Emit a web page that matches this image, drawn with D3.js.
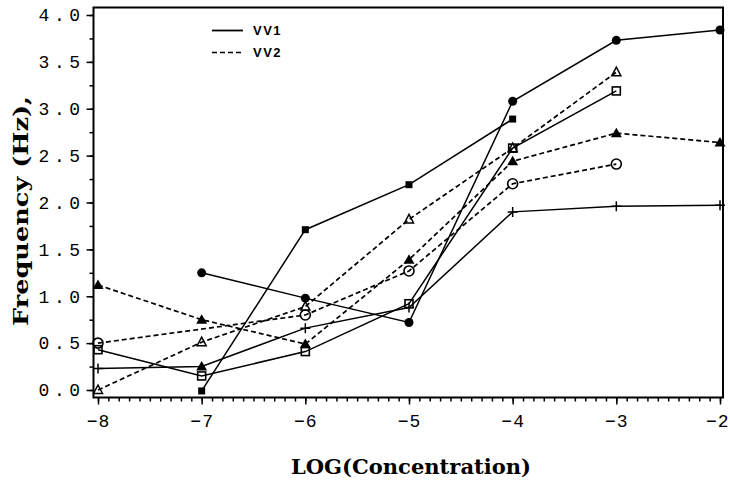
<!DOCTYPE html>
<html>
<head>
<meta charset="utf-8">
<script src="https://d3js.org/d3.v7.min.js"></script>
<style>
  body { margin: 0; background: #fff; }
  .tick text { font-family: "Liberation Mono", "DejaVu Sans Mono", monospace; font-size: 18px; letter-spacing: 4.5px; fill: #000; }
  .xlab .tick text { letter-spacing: 1px; }
  .tick line { stroke: #000; stroke-width: 1.5; }
</style>
</head>
<body>
<script>

// x values (log concentration) and tick labels
var xTicks = [-8, -7, -6, -5, -4, -3, -2];
var yTicks = [0, 0.5, 1, 1.5, 2, 2.5, 3, 3.5, 4];

// VV1 series (solid lines)
var vv1CircleX = [-7, -6, -5, -4, -3, -2];
var vv1CircleY = [1.25, 0.98, 0.72, 3.08, 3.73, 3.84];
var vv1SquareX = [-7, -6, -5, -4];
var vv1SquareY = [-0.01, 1.71, 2.19, 2.89];
var vv1OpenSquareX = [-8, -7, -6, -5, -4, -3];
var vv1OpenSquareY = [0.43, 0.15, 0.41, 0.92, 2.58, 3.19];
var vv1PlusX = [-8, -7, -6, -5, -4, -3, -2];
var vv1PlusY = [0.23, 0.25, 0.66, 0.88, 1.90, 1.96, 1.97];

// VV2 series (dashed lines)
var vv2TriangleX = [-8, -7, -6, -5, -4, -3, -2];
var vv2TriangleY = [1.12, 0.75, 0.49, 1.39, 2.44, 2.74, 2.64];
var vv2OpenTriangleX = [-8, -7, -6, -5, -4, -3];
var vv2OpenTriangleY = [0.0, 0.51, 0.89, 1.82, 2.58, 3.39];
var vv2OpenCircleX = [-8, -6, -5, -4, -3];
var vv2OpenCircleY = [0.50, 0.80, 1.27, 2.20, 2.41];

var legendNames = ["VV1", "VV2"];

// marker used at every point of a series (plus series has a triangle at -7)
var seriesList = [
  {x: vv1CircleX, y: vv1CircleY, dash: false, marks: ["fcircle"]},
  {x: vv1SquareX, y: vv1SquareY, dash: false, marks: ["fsquare"]},
  {x: vv1OpenSquareX, y: vv1OpenSquareY, dash: false, marks: ["osquare"]},
  {x: vv1PlusX, y: vv1PlusY, dash: false, marks: ["plus", "ftriangle", "plus", "plus", "plus", "plus", "plus"]},
  {x: vv2TriangleX, y: vv2TriangleY, dash: true, marks: ["ftriangle"]},
  {x: vv2OpenTriangleX, y: vv2OpenTriangleY, dash: true, marks: ["otriangle"]},
  {x: vv2OpenCircleX, y: vv2OpenCircleY, dash: true, marks: ["ocircle"]}
];

var width = 730, height = 481;
var frame = {left: 93.5, right: 723, top: 7.5, bottom: 397.5};

var svg = d3.select("body").append("svg")
  .attr("width", width)
  .attr("height", height);

var xScale = d3.scaleLinear().domain([-8, -2]).range([98, 720]);
var yScale = d3.scaleLinear().domain([0, 4]).range([390, 15]);

// minor ticks
var xMinor = d3.range(-80, -19).map(function(d) { return d / 10; });
var yMinor = d3.range(0, 17).map(function(d) { return d / 4; });

svg.append("g")
  .attr("transform", "translate(0," + frame.bottom + ")")
  .call(d3.axisBottom(xScale).tickValues(xMinor).tickSize(4).tickFormat(""))
  .call(function(g) { g.select(".domain").remove(); });

svg.append("g")
  .attr("class", "xlab")
  .attr("transform", "translate(0," + frame.bottom + ")")
  .call(d3.axisBottom(xScale).tickValues(xTicks).tickSize(7).tickPadding(10).tickFormat(d3.format("d")))
  .call(function(g) { g.select(".domain").remove(); })
  .selectAll(".tick text")
  .filter(function(d) { return d == -2; })
  .attr("text-anchor", "end")
  .attr("x", 9);

svg.append("g")
  .attr("transform", "translate(" + frame.left + ",0)")
  .call(d3.axisLeft(yScale).tickValues(yMinor).tickSize(4).tickFormat(""))
  .call(function(g) { g.select(".domain").remove(); });

svg.append("g")
  .attr("transform", "translate(" + frame.left + ",0)")
  .call(d3.axisLeft(yScale).tickValues(yTicks).tickSize(7).tickPadding(2).tickFormat(d3.format(".1f")))
  .call(function(g) { g.select(".domain").remove(); });

// frame
svg.append("rect")
  .attr("x", frame.left)
  .attr("y", frame.top)
  .attr("width", frame.right - frame.left)
  .attr("height", frame.bottom - frame.top)
  .attr("fill", "none")
  .attr("stroke", "#000")
  .attr("stroke-width", 2);

// lines
var line = d3.line()
  .x(function(d) { return xScale(d[0]); })
  .y(function(d) { return yScale(d[1]); });

seriesList.forEach(function(s) {
  var pts = s.x.map(function(v, i) { return [v, s.y[i]]; });
  svg.append("path")
    .datum(pts)
    .attr("d", line)
    .attr("fill", "none")
    .attr("stroke", "#000")
    .attr("stroke-width", s.dash ? 1.7 : 1.5)
    .attr("stroke-dasharray", s.dash ? "5,3" : null);
});

// markers
function drawMark(g, type, cx, cy) {
  if (type == "fcircle") {
    g.append("circle").attr("cx", cx).attr("cy", cy).attr("r", 4.5).attr("fill", "#000");
  } else if (type == "ocircle") {
    g.append("circle").attr("cx", cx).attr("cy", cy).attr("r", 5).attr("fill", "none")
      .attr("stroke", "#000").attr("stroke-width", 1.6);
  } else if (type == "fsquare") {
    g.append("rect").attr("x", cx - 3.5).attr("y", cy - 3.5).attr("width", 7).attr("height", 7).attr("fill", "#000");
  } else if (type == "osquare") {
    g.append("rect").attr("x", cx - 4).attr("y", cy - 4).attr("width", 8).attr("height", 8).attr("fill", "none")
      .attr("stroke", "#000").attr("stroke-width", 1.6);
  } else if (type == "ftriangle") {
    g.append("path").attr("d", "M" + cx + "," + (cy - 5.5) + "L" + (cx + 5.5) + "," + (cy + 4) + "L" + (cx - 5.5) + "," + (cy + 4) + "Z")
      .attr("fill", "#000");
  } else if (type == "otriangle") {
    g.append("path").attr("d", "M" + cx + "," + (cy - 5) + "L" + (cx + 4.5) + "," + (cy + 3.5) + "L" + (cx - 4.5) + "," + (cy + 3.5) + "Z")
      .attr("fill", "none").attr("stroke", "#000").attr("stroke-width", 1.5);
  } else if (type == "plus") {
    g.append("path").attr("d", "M" + (cx - 5) + "," + cy + "H" + (cx + 5) + "M" + cx + "," + (cy - 5) + "V" + (cy + 5))
      .attr("stroke", "#000").attr("stroke-width", 1.5);
  }
}

var marks = svg.append("g");
seriesList.forEach(function(s) {
  s.x.forEach(function(v, i) {
    var type = s.marks.length > 1 ? s.marks[i] : s.marks[0];
    drawMark(marks, type, xScale(v), yScale(s.y[i]));
  });
});

// legend
var legend = svg.append("g");
legendNames.forEach(function(name, i) {
  var ly = 30.5 + i * 22;
  legend.append("line")
    .attr("x1", 212).attr("x2", 243)
    .attr("y1", ly).attr("y2", ly)
    .attr("stroke", "#000")
    .attr("stroke-width", i == 0 ? 1.8 : 1.6)
    .attr("stroke-dasharray", i == 0 ? null : "5,3");
  legend.append("text")
    .attr("x", 253).attr("y", ly + 4.5)
    .attr("font-family", "Liberation Sans, Arial, sans-serif")
    .attr("font-weight", "bold")
    .attr("font-size", 13)
    .attr("letter-spacing", "1.5px")
    .text(name);
});

// axis titles
svg.append("text")
  .attr("x", 411).attr("y", 474)
  .attr("text-anchor", "middle")
  .attr("font-family", "DejaVu Serif, serif")
  .attr("font-weight", "bold")
  .attr("font-size", 20)
  .attr("textLength", 240)
  .attr("lengthAdjust", "spacingAndGlyphs")
  .text("LOG(Concentration)");

svg.append("text")
  .attr("transform", "translate(28,211) rotate(-90)")
  .attr("text-anchor", "middle")
  .attr("font-family", "DejaVu Serif, serif")
  .attr("font-weight", "bold")
  .attr("font-size", 20)
  .attr("textLength", 230)
  .attr("lengthAdjust", "spacingAndGlyphs")
  .text("Frequency (Hz),");

</script>
</body>
</html>
